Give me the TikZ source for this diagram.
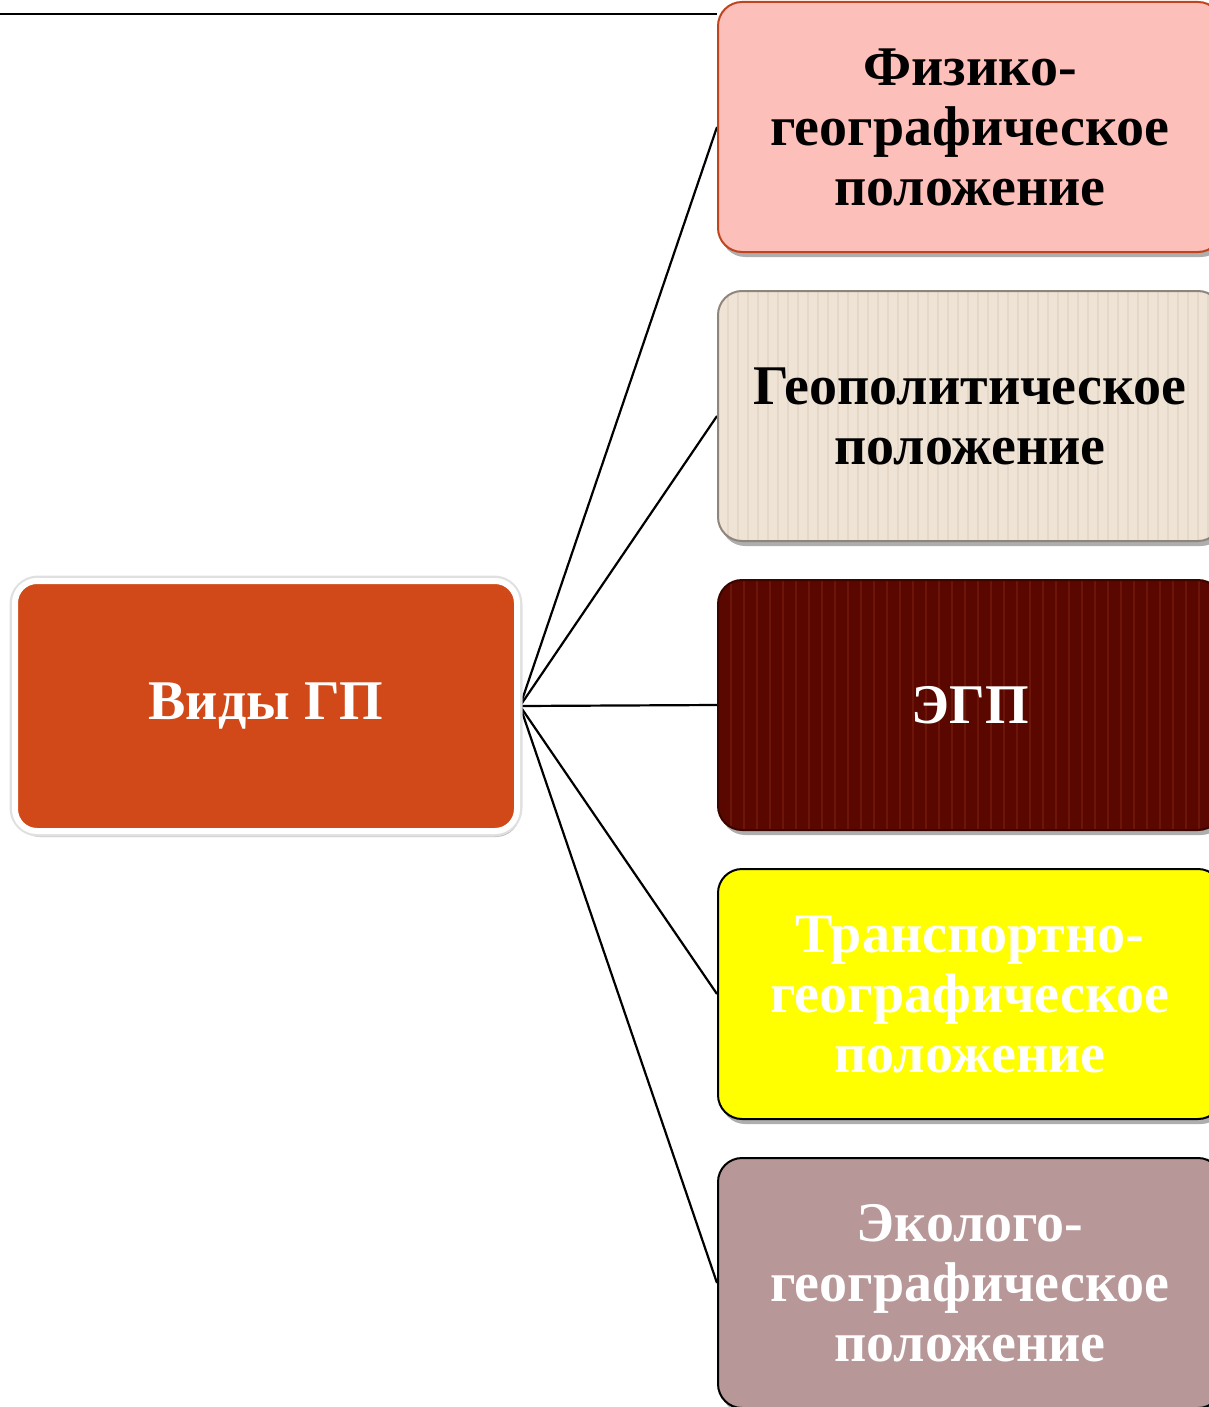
\documentclass[tikz,border=0pt]{standalone}
\usepackage{fontspec}
\setmainfont{Liberation Serif}
\usetikzlibrary{shadows,backgrounds}
\definecolor{pinkfill}{HTML}{FDBFB9}
\definecolor{pinkdraw}{HTML}{C0451E}
\definecolor{beigefill}{HTML}{EFE3D5}
\definecolor{beigestripe}{HTML}{E6D8C8}
\definecolor{beigedraw}{HTML}{8E867C}
\definecolor{maroonfill}{HTML}{5A0700}
\definecolor{maroonstripe}{HTML}{6C1508}
\definecolor{maroondraw}{HTML}{3A0400}
\definecolor{yellowfill}{HTML}{FFFF00}
\definecolor{mauvefill}{HTML}{B79797}
\definecolor{orangefill}{HTML}{D14918}
\tikzset{
  boxtext/.style={font=\bfseries\fontsize{56}{60}\selectfont, align=center},
  rbox/.style={boxtext, rounded corners=24pt, minimum width=504pt, minimum height=250pt,
    inner sep=0pt, line width=2pt,
    drop shadow={shadow xshift=3pt, shadow yshift=-5pt, opacity=0.45, fill=black!70}},
  stripes/.style 2 args={path picture={
    \foreach \i in {0,#2,...,520}
      \draw[#1, line width=2.5pt]
        ([xshift=\i pt]path picture bounding box.south west) --
        ([xshift=\i pt]path picture bounding box.north west);}},
  conn/.style={draw=black, line width=2.2pt},
}
\begin{document}
\begin{tikzpicture}[x=1pt,y=-1pt]
\useasboundingbox (0,0) rectangle (1209,1407);

\node[draw=black!12, line width=9pt, rounded corners=24pt,
  minimum width=504pt, minimum height=252pt, inner sep=0pt,
  drop shadow={shadow xshift=2pt, shadow yshift=-5pt, opacity=0.35, fill=black!70}]
  (rootedge) at (266,706) {};
\node[boxtext, text=white, fill=orangefill, draw=white, line width=6pt, rounded corners=22pt,
  minimum width=502pt, minimum height=250pt, inner sep=0pt]
  (root) at (266,706) {Виды ГП};

\node[rbox, fill=pinkfill, draw=pinkdraw, text=black] (b1) at (970,127)
  {Физико-\\географическое\\положение};
\node[rbox, fill=beigefill, draw=beigedraw, text=black, stripes={beigestripe}{10}] (b2) at (970,416)
  {Геополитическое\\положение};
\node[rbox, fill=maroonfill, draw=maroondraw, text=white, stripes={maroonstripe}{13}] (b3) at (970,705)
  {ЭГП};
\node[rbox, fill=yellowfill, draw=black, text=white] (b4) at (970,994)
  {Транспортно-\\географическое\\положение};
\node[rbox, fill=mauvefill, draw=black, text=white] (b5) at (970,1283)
  {Эколого-\\географическое\\положение};

\coordinate (topL) at (0,14);
\begin{scope}[on background layer]
  \draw[conn] (topL) -- (topL -| b1.west);
  \foreach \b in {b1,b2,b3,b4,b5}
    \draw[conn] (root.east) -- (\b.west);
\end{scope}
\end{tikzpicture}
\end{document}
